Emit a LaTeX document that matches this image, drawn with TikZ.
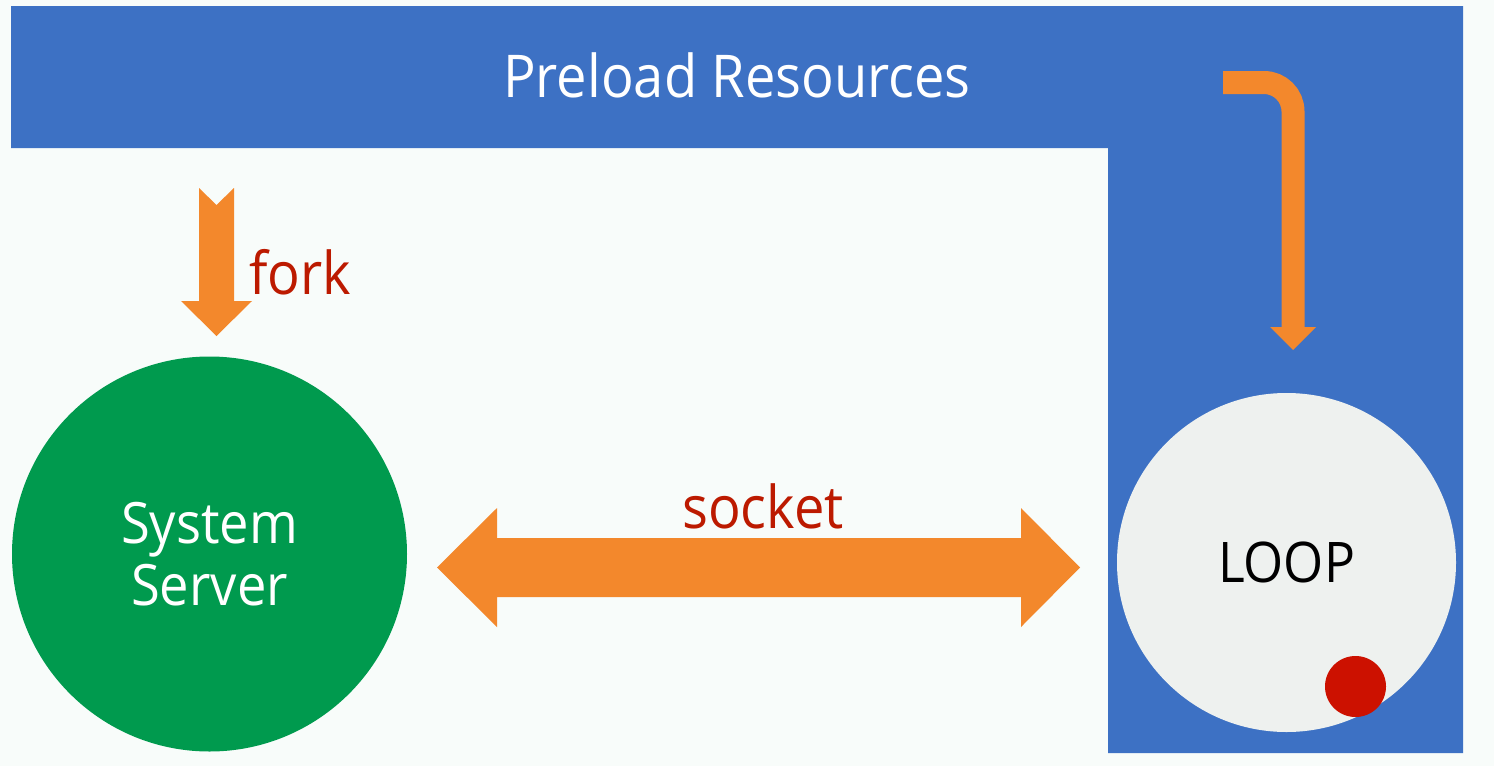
\documentclass[tikz,border=0pt]{standalone}
\usepackage{fontspec}
\setmainfont[FakeStretch=0.92]{Open Sans}
\definecolor{bg}{HTML}{F8FCFA}
\definecolor{zblue}{HTML}{3D71C4}
\definecolor{zorange}{HTML}{F3882C}
\definecolor{zgreen}{HTML}{009A4E}
\definecolor{zred}{HTML}{BC1A00}
\definecolor{dotred}{HTML}{CC1100}
\definecolor{loopfill}{HTML}{EEF1EF}
\begin{document}
\begin{tikzpicture}[x=1pt,y=-1pt,
  bigcircle/.style={circle, inner sep=0pt, align=center},
  lbl/.style={inner sep=0pt, anchor=base},
  blockarrow/.style={fill=zorange, draw=none}]
\fill[bg] (0,0) rectangle (1494,766);
\useasboundingbox (0,0) rectangle (1494,766);
% blue L band
\fill[zblue] (11,6) -- (1463,6) -- (1463,753) -- (1108,753) -- (1108,148) -- (11,148) -- cycle;
\node[lbl, text=white, font=\fontsize{59}{64}\selectfont] (pre) at (737,97) {Preload Resources};
% circles
\node[bigcircle, fill=zgreen, minimum size=395pt, text=white, font=\fontsize{57}{64}\selectfont] (ss) at (209.5,554) {System\\[-2pt]Server};
\node[bigcircle, fill=loopfill, minimum size=339pt, font=\fontsize{56}{64}\selectfont] (loop) at (1286.5,562.5) {\raisebox{-4pt}{LOOP}};
\node[circle, fill=dotred, minimum size=61pt, inner sep=0pt] (dot) at (1355.5,686.5) {};
% fork arrow
\coordinate (forktip) at (216.5,336);
\fill[blockarrow] (199,188) -- (216.5,205) -- (234,188) -- (234,301) -- (252,301) -- (forktip) -- (181,301) -- (199,301) -- cycle;
\node[lbl, text=zred, font=\fontsize{59}{64}\selectfont, anchor=base west] (fork) at (249,294) {fork};
% bent arrow from Preload band to LOOP
\coordinate (bstart) at (1223,82.5);
\coordinate (bcorner) at (1293,82.5);
\coordinate (bhead) at (1293,327);
\coordinate (btip) at (1293,350);
\draw[zorange, line width=23pt, rounded corners=29pt] (bstart) -- (bcorner) -- (bhead);
\fill[blockarrow] (1270,327) -- (1316,327) -- (btip) -- cycle;
% socket double arrow
\coordinate (sl) at (437,567.5);
\coordinate (sr) at (1080,567.5);
\fill[blockarrow] (sl) -- (497,508) -- (497,538) -- (1021,538) -- (1021,508) -- (sr) -- (1021,627) -- (1021,597) -- (497,597) -- (497,627) -- cycle;
\node[lbl, text=zred, font=\fontsize{59}{64}\selectfont] (socket) at (763,528) {socket};
\end{tikzpicture}
\end{document}
